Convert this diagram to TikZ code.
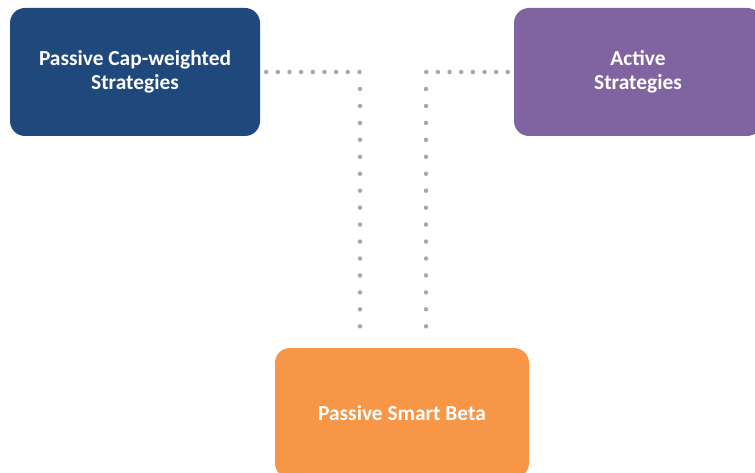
\documentclass[tikz,border=0pt]{standalone}
\usepackage{fontspec}
\setmainfont{Carlito}
\usetikzlibrary{calc}

\definecolor{capblue}{HTML}{1F497D}
\definecolor{activepurple}{HTML}{8064A2}
\definecolor{betaorange}{HTML}{F79646}
\definecolor{dotgray}{HTML}{A8A8A8}

\tikzset{
  stratbox/.style={rounded corners=15pt, minimum width=250pt, minimum height=128pt,
    align=center, text=white, font=\fontsize{21.4}{24}\selectfont\bfseries},
  dotrow/.style={draw=dotgray, line width=4.5pt, line cap=round, dash pattern=on 0pt off 11.65pt},
  dotcol/.style={dotrow, dash pattern=on 0pt off 16.95pt},
}

\begin{document}
\begin{tikzpicture}[x=1pt, y=1pt]
  \useasboundingbox (0, 0) rectangle (755, 472);
  \clip (0, 0) rectangle (755, 472);

  % Strategy boxes
  \node[stratbox, fill=capblue] (cap) at (135, 400) {Passive Cap-weighted\\Strategies};
  \node[stratbox, fill=activepurple, minimum width=248pt] (active) at (638, 400) {Active\\Strategies};
  \node[stratbox, fill=betaorange, minimum width=254pt, minimum height=130pt] (smart) at (402, 59) {Passive Smart Beta};

  % Bends and feet of the dotted links
  \coordinate (capbend) at (360, 400);
  \coordinate (activebend) at (426, 400);
  \coordinate (capfoot) at ($(capbend |- smart.north) + (0, 21)$);
  \coordinate (activefoot) at ($(activebend |- smart.north) + (0, 21)$);

  % Dotted links
  \draw[dotrow, shorten <=6pt] (cap.east) -- (capbend);
  \draw[dotcol, shorten <=17pt] (capbend) -- (capfoot);
  \draw[dotrow, shorten <=6pt] (active.west) -- (activebend);
  \draw[dotcol, shorten <=17pt] (activebend) -- (activefoot);
\end{tikzpicture}
\end{document}
